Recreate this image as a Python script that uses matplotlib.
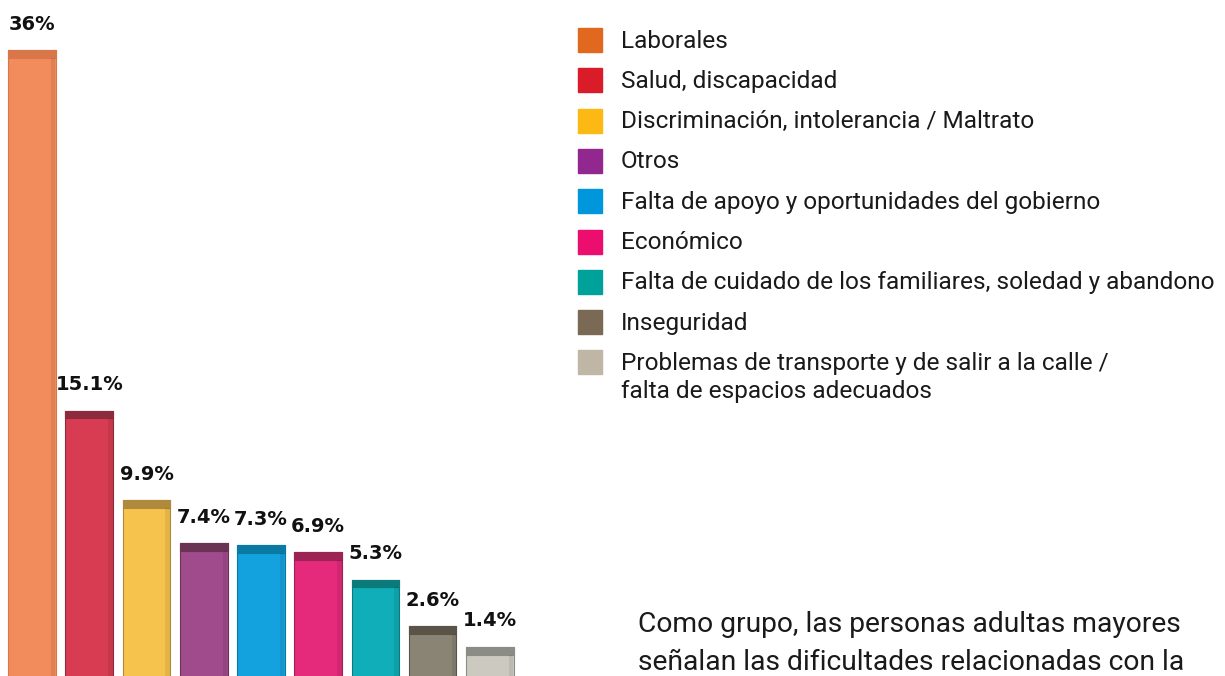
import matplotlib.pyplot as plt
from matplotlib.patches import Rectangle

# data
categories = [
    "Laborales",
    "Salud, discapacidad",
    "Discriminación, intolerancia / Maltrato",
    "Otros",
    "Falta de apoyo y oportunidades del gobierno",
    "Económico",
    "Falta de cuidado de los familiares, soledad y abandono",
    "Inseguridad",
    "Problemas de transporte y de salir a la calle /\nfalta de espacios adecuados",
]
values = [36, 15.1, 9.9, 7.4, 7.3, 6.9, 5.3, 2.6, 1.4]
value_labels = ["36%", "15.1%", "9.9%", "7.4%", "7.3%", "6.9%", "5.3%", "2.6%", "1.4%"]

bar_colors = ['#f28c5c', '#d83c52', '#f6c44c', '#a04b8c', '#14a2de', '#e52a7c',
              '#10aeb8', '#8a8474', '#cbc9c0']
cap_colors = ['#d9774a', '#8c2b3c', '#b08a3c', '#6a3253', '#0b7aa2', '#9c2454',
              '#0a7a7a', '#5a5448', '#8c8c86']
legend_colors = ['#e0681f', '#d91c28', '#fdb913', '#92278f', '#0096db', '#ec0e6f',
                 '#00a19a', '#7a6a55', '#bfb6a5']

note_lines = ["Como grupo, las personas adultas mayores",
              "señalan las dificultades relacionadas con la"]

fig = plt.figure(figsize=(12.25, 6.76), dpi=100)

ax = fig.add_axes([0, 0, 530 / 1225, 1])
ax.set_xlim(-0.559, 8.699)
ax.set_ylim(-0.29, 38.9)
ax.axis('off')

x = list(range(len(values)))
cap = 0.45
base = -1  # bars run off the bottom edge like in the reference
ax.bar(x, [v - base for v in values], bottom=base, width=0.83, color=bar_colors,
       edgecolor=cap_colors, linewidth=0.8, zorder=2)
ax.bar(x, [cap] * len(values), bottom=[v - cap for v in values], width=0.83,
       color=cap_colors, edgecolor=cap_colors, linewidth=0.8, zorder=3)
# slight shade on the right side of each bar
ax.bar([i + 0.37 for i in x], [v - cap - base for v in values], bottom=base, width=0.08,
       color='black', alpha=0.08, linewidth=0, zorder=3)

for i, (v, lab) in enumerate(zip(values, value_labels)):
    ax.text(i, v + 0.95, lab, ha='center', va='bottom', fontsize=14,
            fontweight='bold', color='#111111')

# legend
lax = fig.add_axes([0, 0, 1, 1])
lax.set_xlim(0, 1225)
lax.set_ylim(676, 0)
lax.axis('off')

row_y = 40
for color, label in zip(legend_colors, categories):
    lax.add_patch(Rectangle((578, row_y - 12), 24, 24, color=color))
    for k, part in enumerate(label.split('\n')):
        lax.text(621, row_y + 1 + k * 28.5, part, ha='left', va='center', fontsize=17.6,
                 family='Roboto', color='#1a1a1a')
    row_y += 40.3

# note text at the bottom right
for j, line in enumerate(note_lines):
    lax.text(638, 625 + j * 37, line, ha='left', va='center', fontsize=20.3,
             family='Roboto', color='#1a1a1a')

fig.savefig('out.png', dpi=100)
